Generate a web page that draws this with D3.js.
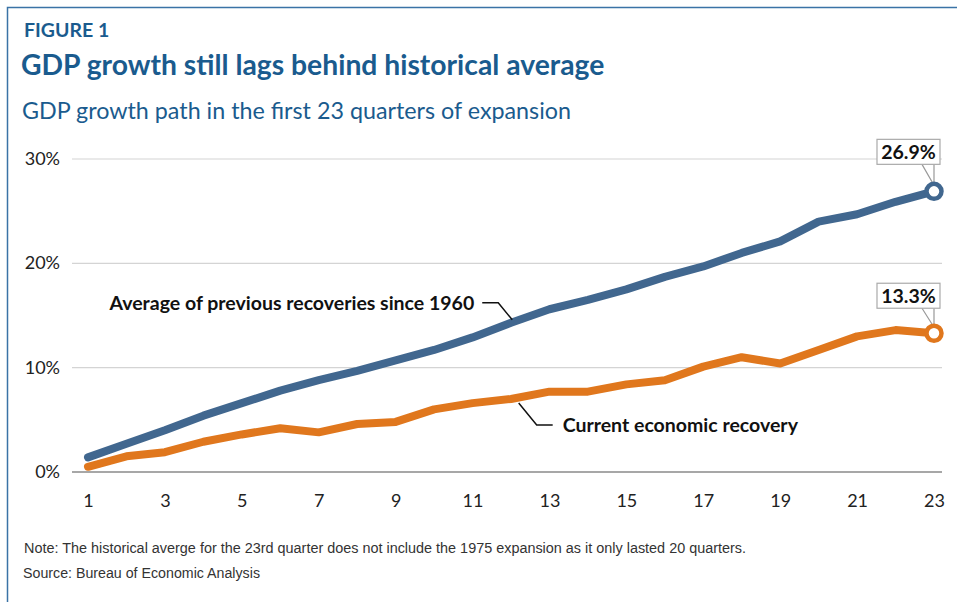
<!DOCTYPE html>
<html>
<head>
<meta charset="utf-8">
<script src="https://cdn.jsdelivr.net/npm/d3@7"></script>
<style>
  body { margin: 0; background: #fff; }
  svg text { font-family: Lato, "Open Sans", sans-serif; }
  .grid line { stroke: #d4d4d4; stroke-width: 1.2; }
  .axis text { font-size: 18px; fill: #222; }
  .label { font-size: 19.5px; font-weight: bold; fill: #111; }
  .note { font-family: "Liberation Sans", sans-serif; font-size: 14px; fill: #333; }
</style>
</head>
<body>
<script>
var svgWidth = 957;
var svgHeight = 602;

var quarters = d3.range(1, 24);
var previousAvg = [1.4, 2.7, 4.0, 5.4, 6.6, 7.8, 8.8, 9.7, 10.7, 11.7, 12.9, 14.3, 15.6, 16.5, 17.5, 18.7, 19.7, 21.0, 22.1, 24.0, 24.7, 25.9, 26.9];
var currentRec = [0.5, 1.5, 1.9, 2.9, 3.6, 4.2, 3.8, 4.6, 4.8, 6.0, 6.6, 7.0, 7.7, 7.7, 8.4, 8.8, 10.1, 11.0, 10.4, 11.7, 13.0, 13.6, 13.3];
var yTicks = [0, 10, 20, 30];
var xTicks = [1, 3, 5, 7, 9, 11, 13, 15, 17, 19, 21, 23];

var margin = { top: 159, right: 23, bottom: 130, left: 88 };
var width = svgWidth - margin.left - margin.right;
var height = svgHeight - margin.top - margin.bottom;

var blue = "#41678f";
var orange = "#e0771d";
var titleBlue = "#1a5b8e";

var svg = d3.select("body")
  .append("svg")
  .attr("width", svgWidth)
  .attr("height", svgHeight);

// frame (left and top edges only)
svg.append("path")
  .attr("d", "M7.5,602 V7.5 H957")
  .attr("fill", "none")
  .attr("stroke", "#3a73a6")
  .attr("stroke-width", 1.5);

svg.append("text")
  .attr("x", 24).attr("y", 37)
  .attr("fill", titleBlue)
  .style("font-size", "19.5px").style("font-weight", "bold")
  .text("FIGURE 1");

svg.append("text")
  .attr("x", 21).attr("y", 75)
  .attr("fill", titleBlue)
  .style("font-size", "28.3px").style("font-weight", "bold")
  .text("GDP growth still lags behind historical average");

svg.append("text")
  .attr("x", 22).attr("y", 119)
  .attr("fill", titleBlue)
  .style("font-size", "23.3px")
  .text("GDP growth path in the first 23 quarters of expansion");

var chart = svg.append("g")
  .attr("transform", "translate(" + margin.left + "," + margin.top + ")");

var x = d3.scaleLinear().domain([1, 23]).range([0, width]);
var y = d3.scaleLinear().domain([0, 30]).range([height, 0]);

// gridlines
chart.append("g")
  .attr("class", "grid")
  .selectAll("line")
  .data(yTicks.filter(function(d) { return d > 0; }))
  .enter().append("line")
    .attr("x1", -16).attr("x2", width + 8)
    .attr("y1", function(d) { return y(d); })
    .attr("y2", function(d) { return y(d); });

// baseline
chart.append("line")
  .attr("x1", -16).attr("x2", width + 8)
  .attr("y1", y(0)).attr("y2", y(0))
  .attr("stroke", "#8a8a8a").attr("stroke-width", 1.5);

// y labels
chart.append("g")
  .attr("class", "axis")
  .selectAll("text")
  .data(yTicks)
  .enter().append("text")
    .attr("x", -28)
    .attr("y", function(d) { return y(d) + 6; })
    .attr("text-anchor", "end")
    .text(function(d) { return d + "%"; });

// x labels
var bottomAxis = d3.axisBottom(x).tickValues(xTicks).tickSize(0).tickPadding(22);
chart.append("g")
  .attr("class", "axis")
  .attr("transform", "translate(0," + height + ")")
  .call(bottomAxis)
  .call(function(g) { g.select(".domain").remove(); })
  .selectAll("text")
    .style("font-size", "18px")
    .attr("fill", "#222");

var line = d3.line()
  .x(function(d, i) { return x(quarters[i]); })
  .y(function(d) { return y(d); });

chart.append("path")
  .datum(currentRec)
  .attr("d", line)
  .attr("fill", "none")
  .attr("stroke", orange)
  .attr("stroke-width", 8)
  .attr("stroke-linecap", "round")
  .attr("stroke-linejoin", "round");

chart.append("path")
  .datum(previousAvg)
  .attr("d", line)
  .attr("fill", "none")
  .attr("stroke", blue)
  .attr("stroke-width", 8)
  .attr("stroke-linecap", "round")
  .attr("stroke-linejoin", "round");

// end markers + value boxes
var ends = [
  { v: previousAvg[22], c: blue, text: "26.9%", boxDy: -52 },
  { v: currentRec[22], c: orange, text: "13.3%", boxDy: -50 }
];

ends.forEach(function(e) {
  var cx = x(23), cy = y(e.v);
  var bx = cx - 57, by = cy + e.boxDy, bw = 63, bh = 25;
  chart.append("path")
    .attr("d", "M" + (cx - 12) + "," + (by + bh) + " L" + cx + "," + (cy - 6) + " L" + (cx) + "," + (by + bh))
    .attr("fill", "none")
    .attr("stroke", "#999")
    .attr("stroke-width", 1.2);
  chart.append("rect")
    .attr("x", bx).attr("y", by)
    .attr("width", bw).attr("height", bh)
    .attr("fill", "#fff")
    .attr("stroke", "#aaa")
    .attr("stroke-width", 1.2);
  chart.append("text")
    .attr("class", "label")
    .attr("x", bx + bw / 2).attr("y", by + 19.5)
    .attr("text-anchor", "middle")
    .text(e.text);
  chart.append("circle")
    .attr("cx", cx).attr("cy", cy)
    .attr("r", 7.5)
    .attr("fill", "#fff")
    .attr("stroke", e.c)
    .attr("stroke-width", 4.5);
});

// series annotations
var annoY1 = y(previousAvg[11]);
chart.append("path")
  .attr("d", "M" + (x(11.2) + 2) + "," + (annoY1 - 20) + " h16 l14," + 17)
  .attr("fill", "none").attr("stroke", "#111").attr("stroke-width", 1.5);
chart.append("text")
  .attr("class", "label")
  .attr("x", x(11.2) - 6).attr("y", annoY1 - 13)
  .attr("text-anchor", "end")
  .text("Average of previous recoveries since 1960");

var annoY2 = y(currentRec[11]);
chart.append("path")
  .attr("d", "M" + x(12.2) + "," + (annoY2 + 4) + " l18,22 h16")
  .attr("fill", "none").attr("stroke", "#111").attr("stroke-width", 1.5);
chart.append("text")
  .attr("class", "label")
  .attr("x", x(12.2) + 44).attr("y", annoY2 + 33)
  .text("Current economic recovery");

// footnotes
svg.append("text")
  .attr("class", "note")
  .attr("x", 24).attr("y", 553)
  .attr("textLength", 722)
  .attr("lengthAdjust", "spacingAndGlyphs")
  .text("Note: The historical averge for the 23rd quarter does not include the 1975 expansion as it only lasted 20 quarters.");

svg.append("text")
  .attr("class", "note")
  .attr("x", 23).attr("y", 578)
  .attr("textLength", 237)
  .attr("lengthAdjust", "spacingAndGlyphs")
  .text("Source: Bureau of Economic Analysis");
</script>
</body>
</html>
